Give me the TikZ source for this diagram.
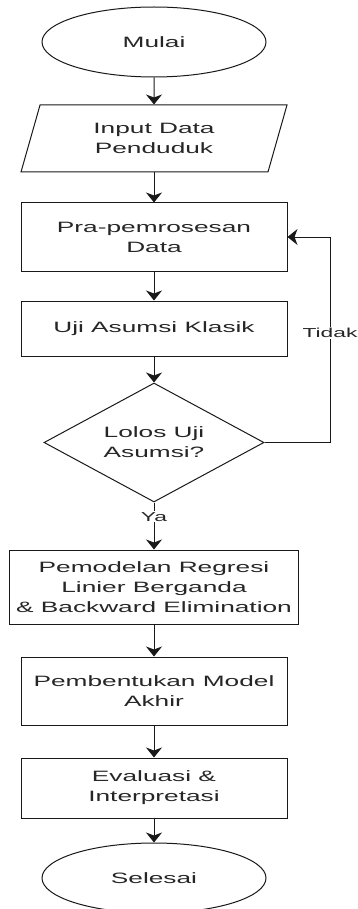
\documentclass[tikz,border=0pt]{standalone}
\usepackage{fontspec}
\setmainfont{Liberation Sans}[FakeStretch=1.75]
\usetikzlibrary{shapes.geometric,arrows.meta}

\tikzset{
  box/.style={draw=black!90, line width=1pt, text=black!85, align=center, inner sep=0pt,
    font=\fontsize{15}{20}\selectfont},
  terminal/.style={box, ellipse, minimum width=224pt, minimum height=70pt},
  inputbox/.style={box, trapezium, trapezium left angle=58, trapezium right angle=122,
    trapezium stretches body, minimum width=266pt, minimum height=67pt},
  process/.style={box, rectangle, minimum width=266pt},
  decision/.style={box, diamond, aspect=1.85, minimum width=220pt, minimum height=119pt},
  flow/.style={draw=black!90, line width=1pt, -{Stealth[length=10pt,width=16pt,inset=3pt]}},
  lbl/.style={fill=white, text=black!85, inner sep=1pt, font=\fontsize{13}{15}\selectfont}
}

\begin{document}
\begin{tikzpicture}[x=1pt,y=-1pt]
  \useasboundingbox (0,0) rectangle (358,909);

  \node[terminal] (mulai) at (154,42) {Mulai};
  \node[inputbox] (input) at (154,138.5) {Input Data\\Penduduk};
  \node[process, minimum height=68pt] (pra) at (154,237) {Pra-pemrosesan\\Data};
  \node[process, minimum height=55pt] (uji) at (154,328.5) {Uji Asumsi Klasik};
  \node[decision] (lolos) at (154,442.5) {Lolos Uji\\Asumsi?};
  \node[process, minimum width=289pt, minimum height=74pt] (model) at (154,587)
    {Pemodelan Regresi\\Linier Berganda\\\& Backward Elimination};
  \node[process, minimum height=68pt] (akhir) at (154,691) {Pembentukan Model\\Akhir};
  \node[process, minimum height=60pt] (eval) at (154,788) {Evaluasi \&\\Interpretasi};
  \node[terminal] (selesai) at (154,878) {Selesai};

  \coordinate (balik) at (330,237);

  \draw[flow] (mulai) -- (input);
  \draw[flow] (input) -- (pra);
  \draw[flow] (pra) -- (uji);
  \draw[flow] (uji) -- (lolos);
  \draw[flow] (lolos) -- node[lbl, pos=0.3] {Ya} (model);
  \draw[flow] (lolos.east) -| (balik) node[lbl, pos=0.767] {Tidak} -- (pra.east);
  \draw[flow] (model) -- (akhir);
  \draw[flow] (akhir) -- (eval);
  \draw[flow] (eval) -- (selesai);
\end{tikzpicture}
\end{document}
